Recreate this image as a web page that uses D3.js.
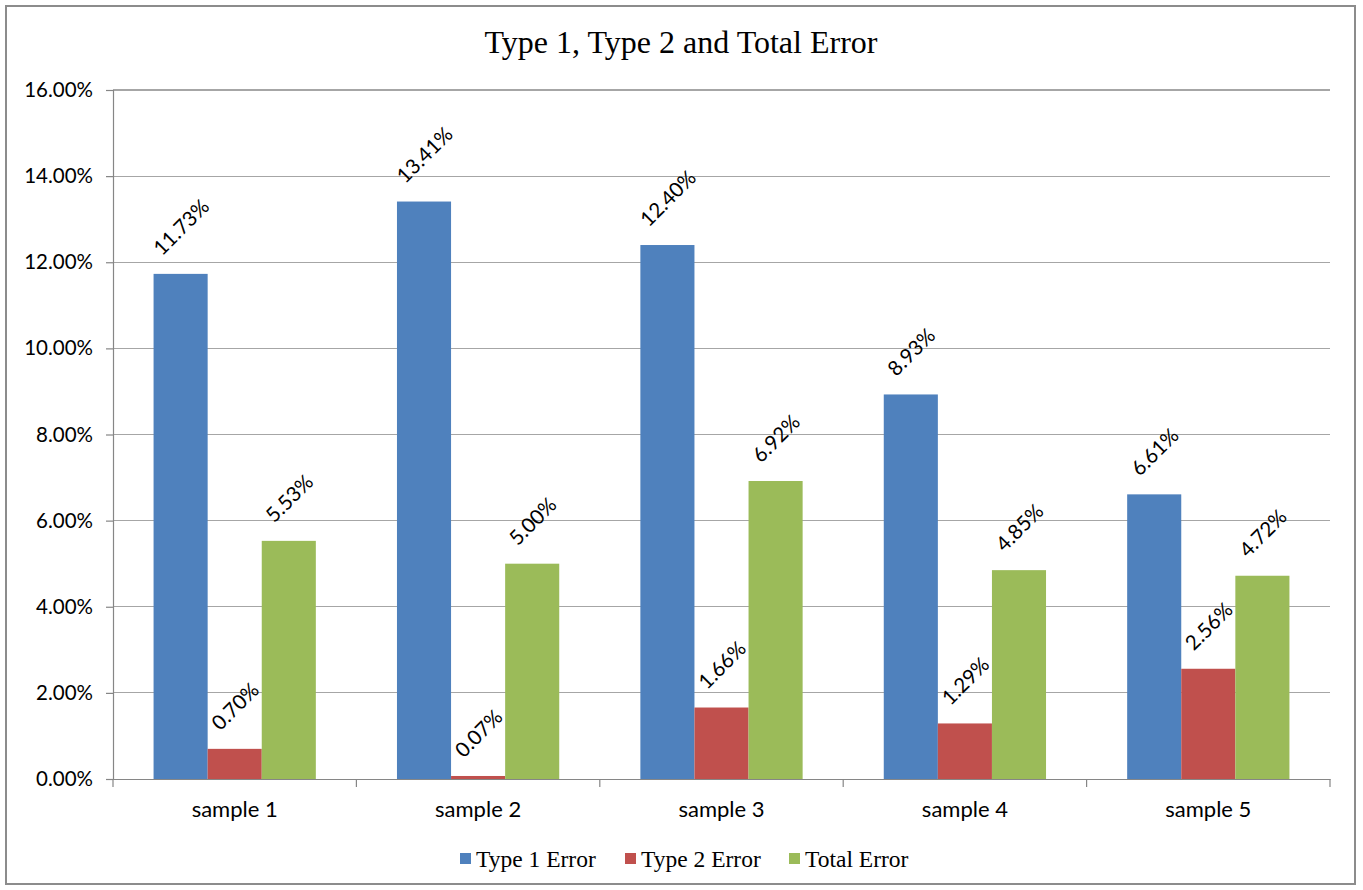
<!DOCTYPE html>
<html><head><meta charset="utf-8">
<script src="https://cdn.jsdelivr.net/npm/d3@7/dist/d3.min.js"></script>
<style>html,body{margin:0;padding:0;background:#fff;}</style>
</head><body>
<svg id="c" width="1363" height="890"></svg>
<script>
const categories = ["sample 1","sample 2","sample 3","sample 4","sample 5"];
const seriesNames = ["Type 1 Error","Type 2 Error","Total Error"];
const type1 = [11.73, 13.41, 12.40, 8.93, 6.61];
const type2 = [0.70, 0.07, 1.66, 1.29, 2.56];
const total = [5.53, 5.00, 6.92, 4.85, 4.72];
const yTicks = [0,2,4,6,8,10,12,14,16];
const colors = ["#4F81BD","#C0504D","#9BBB59"];
const titleText = "Type 1, Type 2 and Total Error";

const series = [type1, type2, total];
const svg = d3.select("#c");
const m = {left:113, right:1330, top:90, bottom:779};

svg.append("rect").attr("x",6).attr("y",6).attr("width",1349).attr("height",878)
  .attr("fill","#fff").attr("stroke","#8c8c8c").attr("stroke-width",2);

svg.append("text").attr("x",681).attr("y",53).attr("text-anchor","middle")
  .attr("font-family","'Liberation Serif','Times New Roman',serif").attr("font-size",32)
  .attr("fill","#000").text(titleText);

const x = d3.scaleBand().domain(categories).range([m.left, m.right]).paddingInner(0).paddingOuter(0);
const inner = d3.scaleBand().domain(d3.range(3)).range([0, x.bandwidth()]).paddingInner(0).paddingOuter(0.75);
const y = d3.scaleLinear().domain([0,16]).range([m.bottom, m.top]);

// gridlines
svg.append("g").selectAll("line").data(yTicks.filter(d=>d>0)).join("line")
  .attr("x1",m.left).attr("x2",m.right).attr("y1",d=>y(d)).attr("y2",d=>y(d))
  .attr("stroke","#a6a6a6").attr("stroke-width",1.2).attr("shape-rendering","crispEdges");

// y axis
const yAxis = d3.axisLeft(y).tickValues(yTicks).tickSize(7).tickPadding(13).tickFormat(d=>d3.format(".2f")(d)+"%");
const gy = svg.append("g").attr("transform",`translate(${m.left},0)`).call(yAxis);
gy.select(".domain").attr("stroke","#868686").attr("stroke-width",1.2);
gy.selectAll(".tick line").attr("stroke","#868686").attr("stroke-width",1.2);
gy.selectAll("text").attr("font-family","Lato,'Open Sans',sans-serif").attr("font-size",20.5).attr("fill","#000");

// bars
const groups = svg.append("g").selectAll("g").data(categories).join("g")
  .attr("transform",d=>`translate(${x(d)},0)`);
groups.selectAll("rect").data((d,i)=>series.map((s,k)=>({k, v:s[i]}))).join("rect")
  .attr("x",d=>inner(d.k)).attr("width",inner.bandwidth())
  .attr("y",d=>y(d.v)).attr("height",d=>y(0)-y(d.v))
  .attr("fill",d=>colors[d.k]);

// x axis
const xAxis = d3.axisBottom(x).tickSize(0).tickPadding(22);
const gx = svg.append("g").attr("transform",`translate(0,${m.bottom})`).call(xAxis);
gx.select(".domain").attr("stroke","#868686").attr("stroke-width",1.2);
gx.selectAll("text").attr("font-family","Lato,'Open Sans',sans-serif").attr("font-size",22).attr("fill","#000");
gx.append("g").selectAll("line").data(d3.range(categories.length+1)).join("line")
  .attr("x1",i=>m.left + i*x.step()).attr("x2",i=>m.left + i*x.step())
  .attr("y1",0).attr("y2",8).attr("stroke","#868686").attr("stroke-width",1.2);

// data labels
groups.each(function(cat,i){
  const g = d3.select(this);
  series.forEach((s,k)=>{
    const v = s[i];
    const cx = inner(k) + inner.bandwidth()/2;
    const t = g.append("text").attr("font-family","Lato,'Open Sans',sans-serif").attr("font-size",20.5)
      .attr("fill","#000").attr("text-anchor","middle").attr("dominant-baseline","central")
      .text(d3.format(".2f")(v)+"%");
    const w = t.node().getComputedTextLength();
    const rotH = (w + 14)/Math.SQRT2;
    const cy = y(v) - 18 - rotH/2;
    t.attr("transform",`translate(${cx},${cy}) rotate(-45)`);
  });
});

// legend
const legX = [460, 625, 789];
const leg = svg.append("g");
seriesNames.forEach((n,k)=>{
  leg.append("rect").attr("x",legX[k]).attr("y",853).attr("width",11).attr("height",11).attr("fill",colors[k]);
  leg.append("text").attr("x",legX[k]+16).attr("y",867)
    .attr("font-family","'Liberation Serif','Times New Roman',serif").attr("font-size",23.5).attr("fill","#000").text(n);
});
</script>
</body></html>
